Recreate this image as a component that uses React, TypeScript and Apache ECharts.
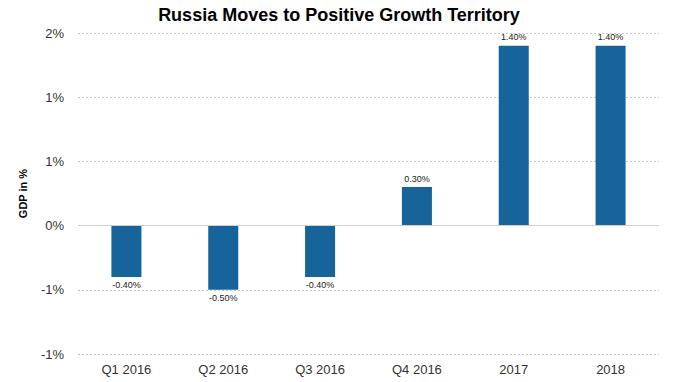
import React, { useEffect, useRef } from "react";
import * as echarts from "echarts";

const categories = ["Q1 2016", "Q2 2016", "Q3 2016", "Q4 2016", "2017", "2018"];
const gdpValues = [-0.4, -0.5, -0.4, 0.3, 1.4, 1.4];
const chartTitle = "Russia Moves to Positive Growth Territory";
const yAxisName = "GDP in %";

export default function App() {
  const ref = useRef<HTMLDivElement>(null);
  useEffect(() => {
    if (!ref.current) return;
    const chart = echarts.init(ref.current, undefined, { renderer: "svg" });
    const font = "Arial, 'Liberation Sans', sans-serif";
    chart.setOption({
      animation: false,
      backgroundColor: "#ffffff",
      title: {
        text: chartTitle,
        left: "center",
        top: 1,
        textStyle: { fontFamily: font, fontSize: 18, fontWeight: "bold", color: "#000" },
      },
      grid: { left: 78, right: 19, top: 33, bottom: 28 },
      xAxis: {
        type: "category",
        data: categories,
        axisLine: { show: false },
        axisTick: { show: false },
        axisLabel: { fontFamily: font, fontSize: 13, color: "#333", margin: 9 },
      },
      yAxis: {
        type: "value",
        min: -1,
        max: 1.5,
        interval: 0.5,
        name: yAxisName,
        nameLocation: "middle",
        nameRotate: 90,
        nameGap: 50,
        nameTextStyle: { fontFamily: font, fontSize: 11, fontWeight: "bold", color: "#000" },
        axisLine: { show: false },
        axisTick: { show: false },
        axisLabel: {
          fontFamily: font,
          fontSize: 13,
          color: "#333",
          margin: 14,
          formatter: (v: number) => v.toFixed(0) + "%",
        },
        splitLine: { lineStyle: { color: "#c8c8c8", type: [2, 2], width: 1 } },
      },
      series: [
        {
          type: "bar",
          barWidth: "31%",
          data: gdpValues.map((v) => ({
            value: v,
            label: { position: v < 0 ? "bottom" : "top" },
          })),
          itemStyle: { color: "#17649a" },
          label: {
            show: true,
            distance: 4,
            fontFamily: font,
            fontSize: 9,
            color: "#222",
            formatter: (p: any) => Number(p.value).toFixed(2) + "%",
          },
          markLine: {
            silent: true,
            symbol: "none",
            label: { show: false },
            lineStyle: { color: "#d0d0d0", type: "solid", width: 1 },
            data: [{ yAxis: 0 }],
          },
        },
      ],
    });
    return () => chart.dispose();
  }, []);
  return <div ref={ref} style={{ width: 678, height: 382, position: "absolute", left: 0, top: 0 }} />;
}
